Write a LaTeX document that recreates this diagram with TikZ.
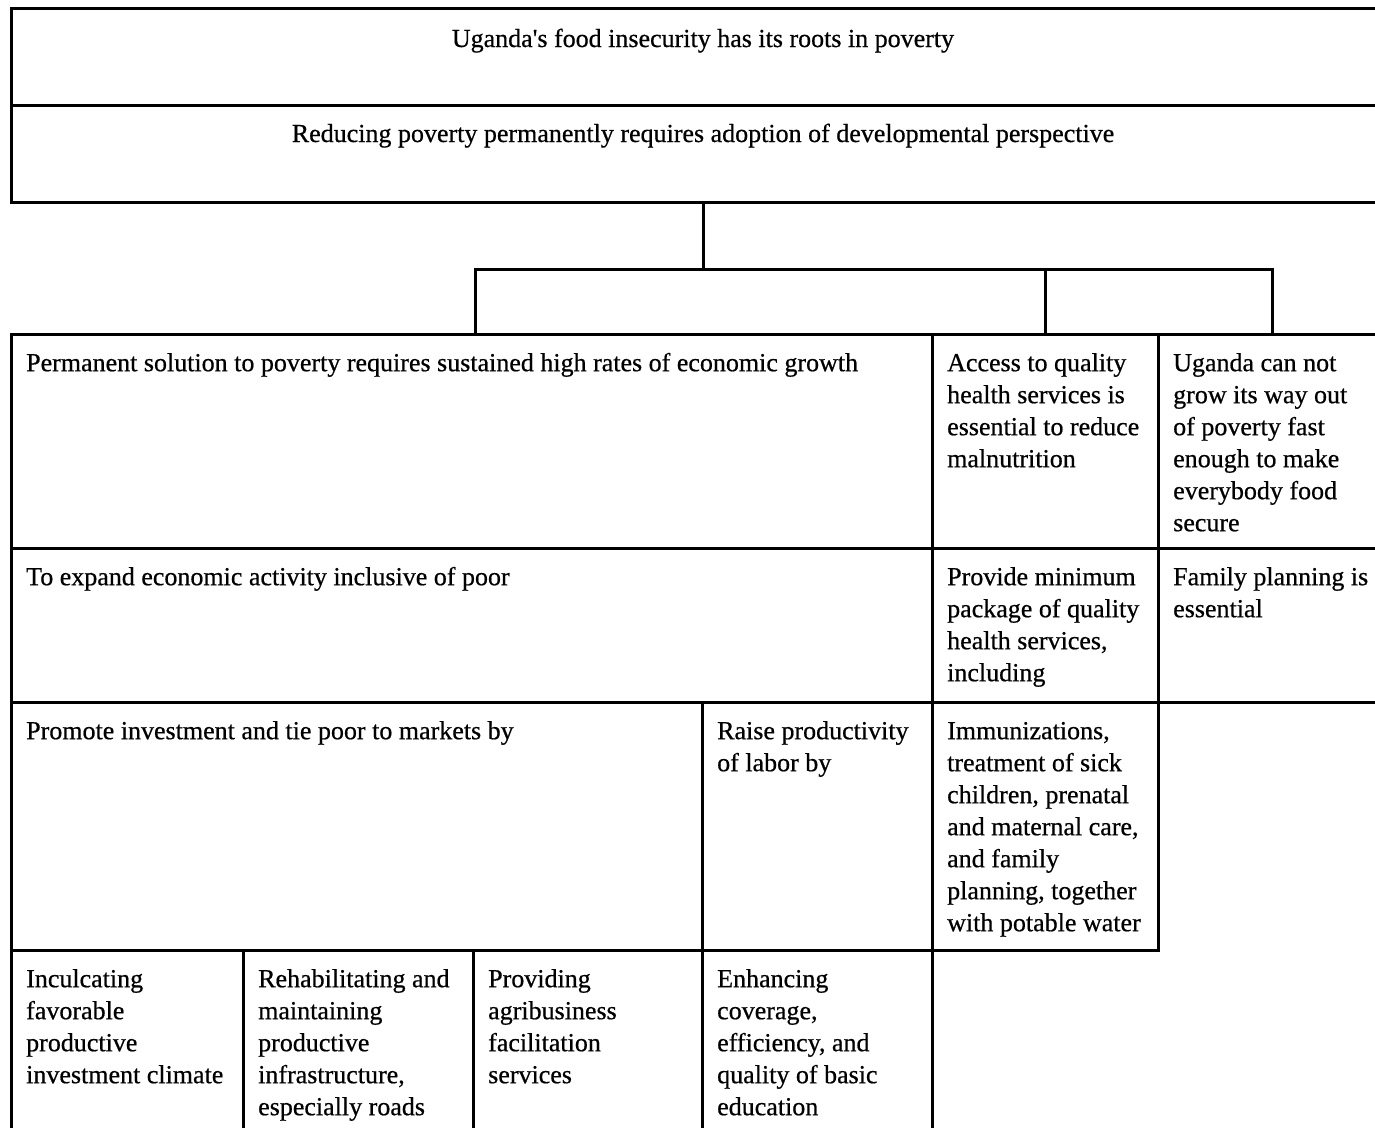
\documentclass[tikz,border=0pt]{standalone}
\usepackage{fontspec}
\setmainfont{Liberation Serif}[FakeBold=0.6]
\usetikzlibrary{calc}
\tikzset{
  cellbox/.style={draw, line width=3pt, rectangle, inner sep=0pt, outer sep=0pt, anchor=north west},
  celltext/.style={anchor=north west, inner sep=0pt, align=left, font=\fontsize{26}{32}\selectfont},
  headtext/.style={anchor=base, inner sep=0pt, font=\fontsize{26}{32}\selectfont},
  link/.style={line width=3pt},
}
\newcommand\mycell[6]{%
  \node[cellbox, minimum width={#4-#2}, minimum height={#5-#3}] (#1) at (#2,#3) {};
  \node[celltext] (#1t) at ($(#1.north west)+(15,14.6)$) {\strut #6};
}
\begin{document}
\begin{tikzpicture}[x=1pt,y=-1pt]
\useasboundingbox (0,0) rectangle (1375,1127);
\clip (0,0) rectangle (1375,1127);
% top boxes
\node[cellbox, minimum width=1384, minimum height=97] (top1) at (11,8) {};
\node[cellbox, minimum width=1384, minimum height=97] (top2) at (11,105) {};
\node[headtext] (top1t) at ($(top1.north)+(0,39)$) {Uganda\textquotesingle s food insecurity has its roots in poverty};
\node[headtext] (top2t) at ($(top2.north)+(0,37)$) {Reducing poverty permanently requires adoption of developmental perspective};
% row 1
\mycell{a1}{11}{334}{932}{548}{Permanent solution to poverty requires sustained high rates of economic growth}
\mycell{b1}{932}{334}{1158}{548}{Access to quality\\health services is\\essential to reduce\\malnutrition}
\mycell{c1}{1158}{334}{1386}{548}{Uganda can not\\grow its way out\\of poverty fast\\enough to make\\everybody food\\secure}
% row 2
\mycell{a2}{11}{548}{932}{702}{To expand economic activity inclusive of poor}
\mycell{b2}{932}{548}{1158}{702}{Provide minimum\\package of quality\\health services,\\including}
\mycell{c2}{1158}{548}{1386}{702}{Family planning is\\essential}
% row 3
\mycell{a3}{11}{702}{702}{950}{Promote investment and tie poor to markets by}
\mycell{b3}{702}{702}{932}{950}{Raise productivity\\of labor by}
\mycell{c3}{932}{702}{1158}{950}{Immunizations,\\treatment of sick\\children, prenatal\\and maternal care,\\and family\\planning, together\\with potable water}
% row 4
\mycell{d1}{11}{950}{243}{1140}{Inculcating\\favorable\\productive\\investment climate}
\mycell{d2}{243}{950}{473}{1140}{Rehabilitating and\\maintaining\\productive\\infrastructure,\\especially roads}
\mycell{d3}{473}{950}{702}{1140}{Providing\\agribusiness\\facilitation\\services}
\mycell{d4}{702}{950}{932}{1140}{Enhancing\\coverage,\\efficiency, and\\quality of basic\\education}
% connectors
\coordinate (bus) at (0,269);
\coordinate (a1top) at ([xshift=3.5pt]a1.north);
\draw[link] (top2.south) -- (top2.south |- bus);
\draw[link] (a1top) |- (bus -| c1.north) -- (c1.north);
\draw[link] (b1.north) -- (b1.north |- bus);
\end{tikzpicture}
\end{document}
